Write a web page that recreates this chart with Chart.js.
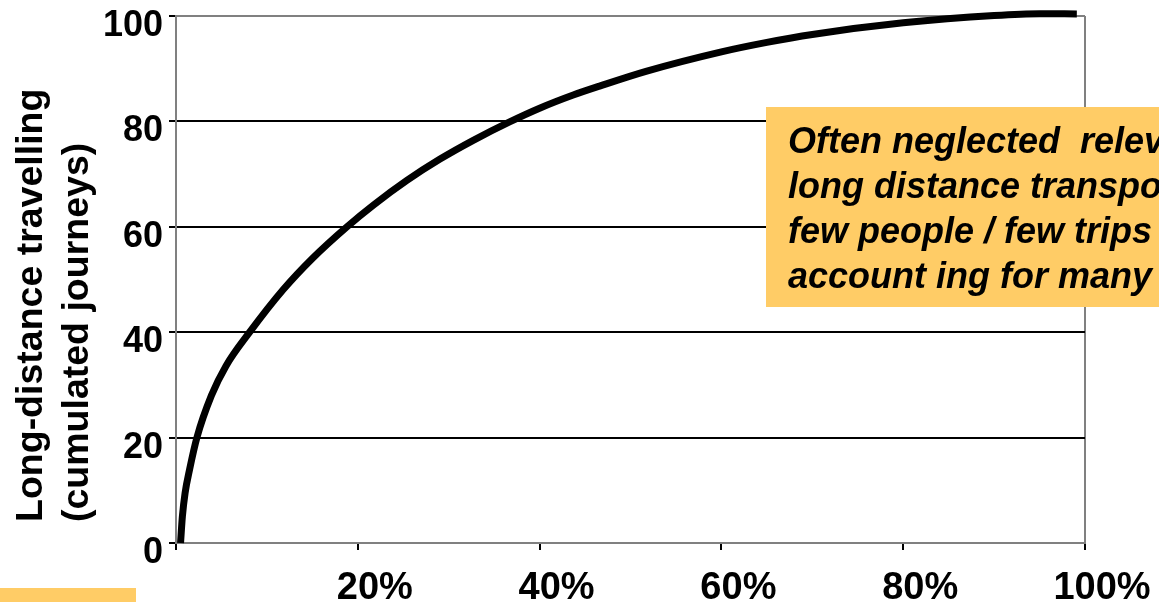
<!DOCTYPE html>
<html lang="en">
<head>
<meta charset="UTF-8">
<title>Long-distance travelling</title>
<script src="https://cdn.jsdelivr.net/npm/chart.js"></script>
<style>
    html, body { margin: 0; padding: 0; background: #fff; }
    #wrap { width: 1159px; height: 602px; }
</style>
</head>
<body>
<div id="wrap"><canvas id="curveChart" width="1159" height="602"></canvas></div>
<script>
// share of travellers (x, %) and cumulated long-distance journeys (y)
var travellerShare = [0.5, 0.7, 1.0, 1.5, 2.3, 3.9, 5.5, 8.1, 11.8, 15, 18.8, 21.7, 25.4, 29, 32.7, 36.7, 40, 43.7, 46.6, 51.7, 60, 65, 70, 80, 90, 95, 99.1];
var cumulatedJourneys = [0, 5, 9.5, 14, 20, 28, 33.6, 40, 48.1, 54, 60, 64.1, 68.8, 72.8, 76.4, 79.9, 82.5, 85, 86.7, 89.5, 93.2, 95, 96.5, 98.7, 100.1, 100.45, 100.4];

var xTicks = [0, 20, 40, 60, 80, 100];
var yTicks = [0, 20, 40, 60, 80, 100];

var yTitleLines = ['Long-distance travelling', '(cumulated journeys)'];
var noteLines = ['Often neglected  relevance of', 'long distance transport:', 'few people / few trips', 'account ing for many km'];

var orange = '#FFCC66';
var frameGrey = '#808080';

var points = travellerShare.map(function (x, i) {
    return { x: x, y: cumulatedJourneys[i] };
});

// y-axis title, note box and the little bar bottom left
var extrasPlugin = {
    id: 'extras',
    afterDraw: function (chart) {
        var ctx = chart.ctx;
        ctx.save();

        ctx.fillStyle = '#000';
        ctx.font = 'bold 37.5px "Liberation Sans", Arial, sans-serif';
        ctx.textAlign = 'left';
        ctx.textBaseline = 'alphabetic';
        ctx.translate(0, 522);
        ctx.rotate(-Math.PI / 2);
        ctx.fillText(yTitleLines[0], 0, 42);
        ctx.fillText(yTitleLines[1], 0, 88);
        ctx.setTransform(1, 0, 0, 1, 0, 0);
        ctx.scale(chart.currentDevicePixelRatio, chart.currentDevicePixelRatio);

        ctx.fillStyle = orange;
        ctx.fillRect(766, 107, 420, 200);
        ctx.fillRect(0, 588, 136, 14);

        ctx.fillStyle = '#000';
        ctx.font = 'italic bold 36px "Liberation Sans", Arial, sans-serif';
        for (var i = 0; i < noteLines.length; i++) {
            ctx.fillText(noteLines[i], 788, 153 + i * 45);
        }
        ctx.restore();
    }
};

var ctx = document.getElementById('curveChart').getContext('2d');
var curveChart = new Chart(ctx, {
    type: 'line',
    data: {
        datasets: [{
            data: points,
            borderColor: '#000',
            borderWidth: 7,
            pointRadius: 0,
            fill: false,
            cubicInterpolationMode: 'monotone',
            clip: false
        }]
    },
    options: {
        responsive: false,
        animation: false,
        layout: { padding: { top: 16, right: 74, left: 0, bottom: 0 } },
        plugins: {
            legend: { display: false },
            tooltip: { enabled: false }
        },
        scales: {
            x: {
                type: 'linear',
                min: 0,
                max: 100,
                afterBuildTicks: function (scale) {
                    scale.ticks = xTicks.map(function (v) { return { value: v }; });
                },
                afterFit: function (scale) {
                    scale.height = 59;
                    scale.paddingLeft = 0;
                    scale.paddingRight = 0;
                },
                grid: {
                    color: function (c) { return c.tick && c.tick.value === 100 ? frameGrey : 'rgba(0,0,0,0)'; },
                    tickColor: '#000',
                    lineWidth: 2,
                    tickWidth: 2,
                    tickLength: 7
                },
                border: { color: frameGrey, width: 2 },
                ticks: {
                    color: '#000',
                    padding: 16,
                    labelOffset: 17,
                    maxRotation: 0,
                    font: { family: '"Liberation Sans", Arial, sans-serif', size: 38, weight: 'bold' },
                    callback: function (v) { return v === 0 ? '' : v + '%'; }
                }
            },
            y: {
                min: 0,
                max: 100,
                afterBuildTicks: function (scale) {
                    scale.ticks = yTicks.map(function (v) { return { value: v }; });
                },
                afterFit: function (scale) {
                    scale.width = 176;
                    scale.paddingTop = 0;
                    scale.paddingBottom = 0;
                },
                grid: {
                    color: function (c) {
                        var v = c.tick ? c.tick.value : -1;
                        return (v === 0 || v === 100) ? frameGrey : '#000';
                    },
                    tickColor: '#000',
                    lineWidth: 2,
                    tickWidth: 2,
                    tickLength: 7
                },
                border: { color: frameGrey, width: 2 },
                ticks: {
                    color: '#000',
                    padding: 6,
                    labelOffset: 10,
                    font: { family: '"Liberation Sans", Arial, sans-serif', size: 36, weight: 'bold' }
                }
            }
        }
    },
    plugins: [extrasPlugin]
});
</script>
</body>
</html>
